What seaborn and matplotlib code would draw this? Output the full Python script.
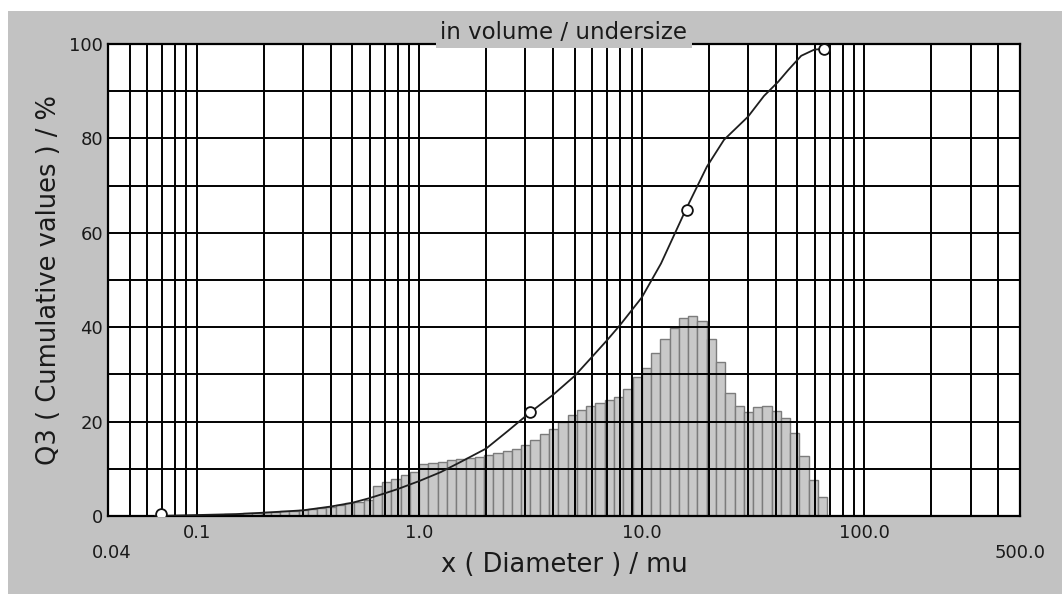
import numpy as np
import matplotlib
matplotlib.use("Agg")
import matplotlib.pyplot as plt
from matplotlib.patches import Rectangle
from matplotlib.ticker import LogLocator, MultipleLocator, FixedLocator, NullFormatter
import seaborn as sns

# ---- particle size distribution (laser diffraction, volume based) ----
# size classes: 24 channels per decade, first channel starts at 10**(-22/24) um
channels_per_decade = 24
first_channel = -22

# q3 density per channel (plotted on the same 0-100 scale)
q3_density = [
    0.3, 0.4, 0.5, 0.6, 0.7, 0.8, 0.9, 1.0, 1.1, 1.3, 1.5,
    1.7, 2.0, 2.3, 2.7, 3.0, 3.4, 6.3, 7.3, 7.8, 8.7, 9.4,
    11.0, 11.2, 11.5, 11.8, 12.0, 12.3, 12.6, 13.0, 13.3, 13.7, 14.3, 15.0,
    16.2, 17.3, 18.5, 20.0, 21.3, 22.5, 23.3, 24.0, 24.6, 25.3, 27.0, 29.5,
    31.3, 34.5, 37.6, 39.8, 41.9, 42.4, 41.4, 37.6, 32.7, 26.1,
    23.3, 22.1, 23.0, 23.3, 22.3, 20.7, 17.5, 12.7, 7.6, 4.1,
]

# cumulative undersize curve Q3
q3_sizes = [0.065, 0.1, 0.15, 0.2, 0.3, 0.4, 0.5, 0.6, 0.7, 0.8, 0.9, 1.0,
            1.25, 1.5, 2.0, 2.5, 3.16, 4.0, 5.0, 6.0, 7.0, 8.0, 10.0, 12.2,
            15.8, 19.6, 23.4, 30.0, 35.4, 41.0, 45.5, 52.0, 59.5, 66.0]
q3_cumulative = [0.0, 0.2, 0.4, 0.7, 1.2, 2.0, 2.8, 3.8, 4.8, 5.7, 6.6, 7.4,
                 9.3, 11.2, 14.3, 18.0, 22.0, 25.7, 29.7, 33.8, 37.3, 40.5, 46.3, 53.5,
                 65.0, 74.0, 79.7, 84.6, 89.0, 92.0, 94.5, 97.5, 98.8, 99.0]

# marked points on the cumulative curve
marker_sizes = [0.0695, 3.16, 15.9, 66.0]
marker_values = [0.4, 22.0, 64.8, 99.0]

x_major = [0.1, 1.0, 10.0, 100.0]
x_major_labels = ["0.1", "1.0", "10.0", "100.0"]
x_range = [0.04, 500.0]
x_range_labels = ["0.04", "500.0"]
y_ticks = [0, 20, 40, 60, 80, 100]

PANEL = "#c2c2c2"

plt.rcParams["font.family"] = ["DejaVu Sans"]

fig = plt.figure(figsize=(10.62, 5.94), dpi=100)
fig.patch.set_facecolor("white")
fig.add_artist(Rectangle((8 / 1062, 0), 1054 / 1062, 583 / 594,
                         transform=fig.transFigure, facecolor=PANEL,
                         edgecolor="none", zorder=-10))

ax = fig.add_axes([108 / 1062, 1 - 516 / 594, 912 / 1062, 472 / 594])
ax.set_facecolor("white")

# histogram of the density distribution (bins given in log10 units)
n = len(q3_density)
edges = 10.0 ** ((first_channel + np.arange(n + 1)) / channels_per_decade)
centers = np.sqrt(edges[:-1] * edges[1:])
sns.histplot(x=centers, weights=q3_density, bins=list(np.log10(edges)), log_scale=True,
             stat="count", color="#c9c9c9", edgecolor="#7c7c7c", linewidth=1.0,
             alpha=1.0, ax=ax, zorder=1)

# cumulative curve
sns.lineplot(x=q3_sizes, y=q3_cumulative, color="#1e1e1e", linewidth=1.3,
             sort=False, estimator=None, ax=ax, zorder=3)
sns.scatterplot(x=marker_sizes, y=marker_values, marker="o", s=60,
                color="white", edgecolor="#111111", linewidth=1.3, ax=ax, zorder=4)

ax.set_xscale("log")
ax.set_xlim(*x_range)
ax.set_ylim(0, 100)

ax.xaxis.set_major_locator(FixedLocator(x_major))
ax.set_xticklabels(x_major_labels)
ax.xaxis.set_minor_locator(LogLocator(base=10, subs=np.arange(2, 10), numticks=30))
ax.xaxis.set_minor_formatter(NullFormatter())
ax.set_yticks(y_ticks)
ax.set_yticklabels([str(v) for v in y_ticks])
ax.yaxis.set_minor_locator(MultipleLocator(10))

ax.grid(True, which="both", color="black", linewidth=1.4)
ax.set_axisbelow(False)
ax.tick_params(which="both", length=0)
ax.tick_params(axis="x", pad=5.5, labelsize=13, colors="#1a1a1a")
ax.tick_params(axis="y", pad=3.5, labelsize=13, colors="#1a1a1a")

for s in ax.spines.values():
    s.set_color("black")
    s.set_linewidth(1.6)

# end-of-range labels on a second row
for xv, shift, lab in zip(x_range, [1.04, 1.0], x_range_labels):
    ax.text(xv * shift, -0.078, lab, transform=ax.get_xaxis_transform(),
            ha="center", va="center", fontsize=13, color="#1a1a1a")

ax.set_xlabel("x ( Diameter ) / mu", fontsize=18.5, color="#1a1a1a")
ax.xaxis.set_label_coords(0.5, -0.077)
ax.set_ylabel("Q3 ( Cumulative values ) / %", fontsize=18.5, color="#1a1a1a")
ax.yaxis.set_label_coords(-0.05, 0.5)

ax.text(0.5, 1.0, "in volume / undersize", transform=ax.transAxes,
        ha="center", va="bottom", fontsize=16.5, color="#1a1a1a",
        bbox=dict(boxstyle="square,pad=0.18", facecolor=PANEL, edgecolor="none"),
        zorder=20, clip_on=False)

fig.savefig("out.png", dpi=100, facecolor=fig.get_facecolor())
